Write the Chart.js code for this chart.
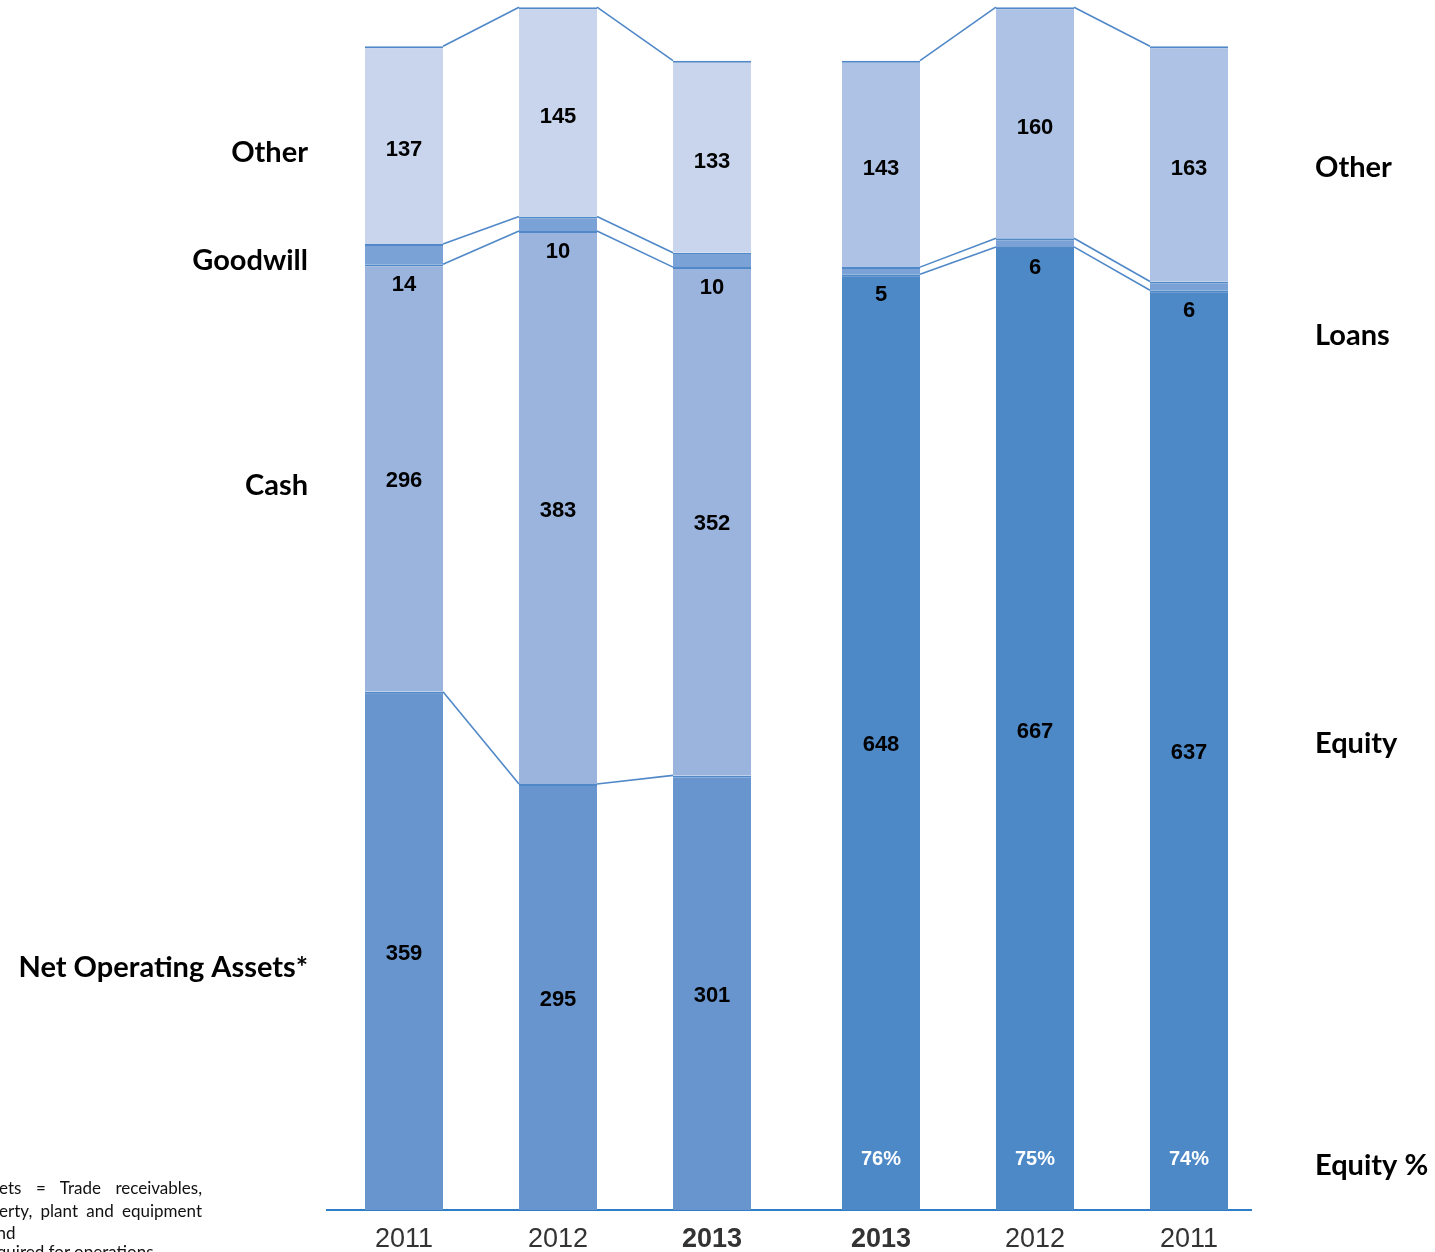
<!DOCTYPE html>
<html>
<head>
<meta charset="utf-8">
<script src="https://cdn.jsdelivr.net/npm/chart.js@4.4.1/dist/chart.umd.min.js"></script>
<style>
  html, body { margin: 0; padding: 0; background: #fff; overflow: hidden; }
  #wrap { position: relative; width: 1435px; height: 1252px; overflow: hidden; }
  .note { position: absolute; font: 17px Lato, 'Open Sans', sans-serif; color: #111; white-space: nowrap; line-height: 20px; }
  .just { text-align: justify; text-align-last: justify; white-space: normal; }
</style>
</head>
<body>
<div id="wrap">
  <canvas id="balance" width="1435" height="1252"></canvas>
  <div class="note just" style="left:-1px; width:203px; top:1178px;">ets = Trade receivables,</div>
  <div class="note just" style="left:-1px; width:203px; top:1201px;">erty, plant and equipment</div>
  <div class="note" style="left:-12px; top:1223px;">and</div>
  <div class="note" style="left:-18px; top:1242px;">required for operations</div>
</div>
<script>
// données du bilan (mio)
const years = ['2011', '2012', '2013', '2013', '2012', '2011'];
const netOperatingAssets = [359, 295, 301, null, null, null];
const cash = [296, 383, 352, null, null, null];
const goodwill = [14, 10, 10, null, null, null];
const otherAssets = [137, 145, 133, null, null, null];
const equity = [null, null, null, 648, 667, 637];
const loans = [null, null, null, 5, 6, 6];
const otherLiabilities = [null, null, null, 143, 160, 163];
const equityPct = [null, null, null, 76, 75, 74];

const LINE = '#5088c8';
const GROUP_GAP = 15; // espace en plus entre actif et passif

// libellés à gauche / à droite
const sideLabels = [
  { text: 'Other', x: 308, y: 153, align: 'right' },
  { text: 'Goodwill', x: 308, y: 261, align: 'right' },
  { text: 'Cash', x: 308, y: 486, align: 'right' },
  { text: 'Net Operating Assets*', x: 308, y: 968, align: 'right' },
  { text: 'Other', x: 1315, y: 168, align: 'left' },
  { text: 'Loans', x: 1315, y: 336, align: 'left' },
  { text: 'Equity', x: 1315, y: 744, align: 'left' },
  { text: 'Equity %', x: 1315, y: 1166, align: 'left' }
];

function ds(label, data, color, labelMode) {
  return {
    label: label,
    data: data,
    backgroundColor: color,
    borderColor: LINE,
    borderWidth: { top: 2, left: 0, right: 0, bottom: 0 },
    borderSkipped: false,
    stack: 'bs',
    labelMode: labelMode
  };
}

// décale le groupe du passif vers la droite
const gapPlugin = {
  id: 'groupGap',
  afterDatasetsUpdate(chart) {
    chart.data.datasets.forEach((d, di) => {
      const meta = chart.getDatasetMeta(di);
      meta.data.forEach((el, i) => {
        if (equity[i] != null) el.x += GROUP_GAP;
      });
    });
  }
};

function barX(chart, i) {
  for (let di = 0; di < chart.data.datasets.length; di++) {
    if (chart.data.datasets[di].data[i] != null) return chart.getDatasetMeta(di).data[i].x;
  }
  return chart.scales.x.getPixelForValue(i);
}

// lignes de liaison entre les barres d'un même groupe
const connectorPlugin = {
  id: 'connectors',
  afterDatasetsDraw(chart) {
    const ctx = chart.ctx;
    ctx.save();
    ctx.strokeStyle = LINE;
    ctx.lineWidth = 1.6;
    chart.data.datasets.forEach((d, di) => {
      const meta = chart.getDatasetMeta(di);
      for (let i = 0; i < d.data.length - 1; i++) {
        if (d.data[i] == null || d.data[i + 1] == null) continue;
        const a = meta.data[i], b = meta.data[i + 1];
        ctx.beginPath();
        ctx.moveTo(a.x + a.width / 2, a.y);
        ctx.lineTo(b.x - b.width / 2, b.y);
        ctx.stroke();
      }
    });
    ctx.restore();
  }
};

// valeurs dans les barres, années, libellés latéraux
const labelPlugin = {
  id: 'labels',
  afterDatasetsDraw(chart) {
    const ctx = chart.ctx;
    ctx.save();
    ctx.textAlign = 'center';
    ctx.textBaseline = 'middle';
    ctx.font = 'bold 22px "Liberation Sans", Arial, sans-serif';
    ctx.fillStyle = '#000';
    chart.data.datasets.forEach((d, di) => {
      const meta = chart.getDatasetMeta(di);
      d.data.forEach((v, i) => {
        if (v == null) return;
        const el = meta.data[i];
        let y = (el.y + el.base) / 2 + 3;
        if (d.labelMode === 'below') y = el.base + 21;
        if (d.labelMode === 'top') y = (el.y + el.base) / 2 + 5;
        ctx.fillText(String(v), el.x, y);
      });
    });
    // Equity % en blanc en bas des barres
    const eqIndex = chart.data.datasets.findIndex(d => d.label === 'Equity');
    const eqMeta = chart.getDatasetMeta(eqIndex);
    ctx.fillStyle = '#fff';
    ctx.font = 'bold 20px "Liberation Sans", Arial, sans-serif';
    equityPct.forEach((p, i) => {
      if (p == null) return;
      ctx.fillText(p + '%', eqMeta.data[i].x, chart.chartArea.bottom - 51);
    });
    // années sous l'axe
    ctx.fillStyle = '#333';
    years.forEach((y, i) => {
      const bold = y === '2013';
      ctx.font = (bold ? 'bold ' : '') + '27px "Liberation Sans Narrow", "Liberation Sans", Arial, sans-serif';
      ctx.fillText(y, barX(chart, i), chart.chartArea.bottom + 30);
    });
    // libellés latéraux
    ctx.fillStyle = '#000';
    ctx.font = 'bold 29px Lato, "Open Sans", sans-serif';
    sideLabels.forEach(l => {
      ctx.textAlign = l.align;
      ctx.fillText(l.text, l.x, l.y);
    });
    ctx.restore();
  }
};

const canvas = document.getElementById('balance');
new Chart(canvas.getContext('2d'), {
  type: 'bar',
  data: {
    labels: years,
    datasets: [
      ds('Net Operating Assets', netOperatingAssets, '#6895cd', 'center'),
      ds('Equity', equity, '#4d89c7', 'center'),
      ds('Cash', cash, '#9ab4de', 'center'),
      ds('Loans', loans, '#7aa2d6', 'below'),
      ds('Goodwill', goodwill, '#7aa2d6', 'below'),
      ds('Other assets', otherAssets, '#c8d5ec', 'top'),
      ds('Other liabilities', otherLiabilities, '#adc2e4', 'top')
    ]
  },
  options: {
    responsive: false,
    animation: false,
    categoryPercentage: 78 / 154,
    barPercentage: 1,
    layout: { padding: { left: 327, right: 184, top: 0, bottom: 0 } },
    plugins: {
      legend: { display: false },
      tooltip: { enabled: false }
    },
    scales: {
      x: {
        stacked: true,
        grid: { display: false, drawTicks: false },
        border: { color: '#2f7cc8', width: 2 },
        ticks: { display: false },
        afterFit: function(scale) { scale.height = 42; }
      },
      y: {
        stacked: true,
        display: false,
        min: 0,
        max: 838
      }
    }
  },
  plugins: [gapPlugin, connectorPlugin, labelPlugin]
});
</script>
</body>
</html>
